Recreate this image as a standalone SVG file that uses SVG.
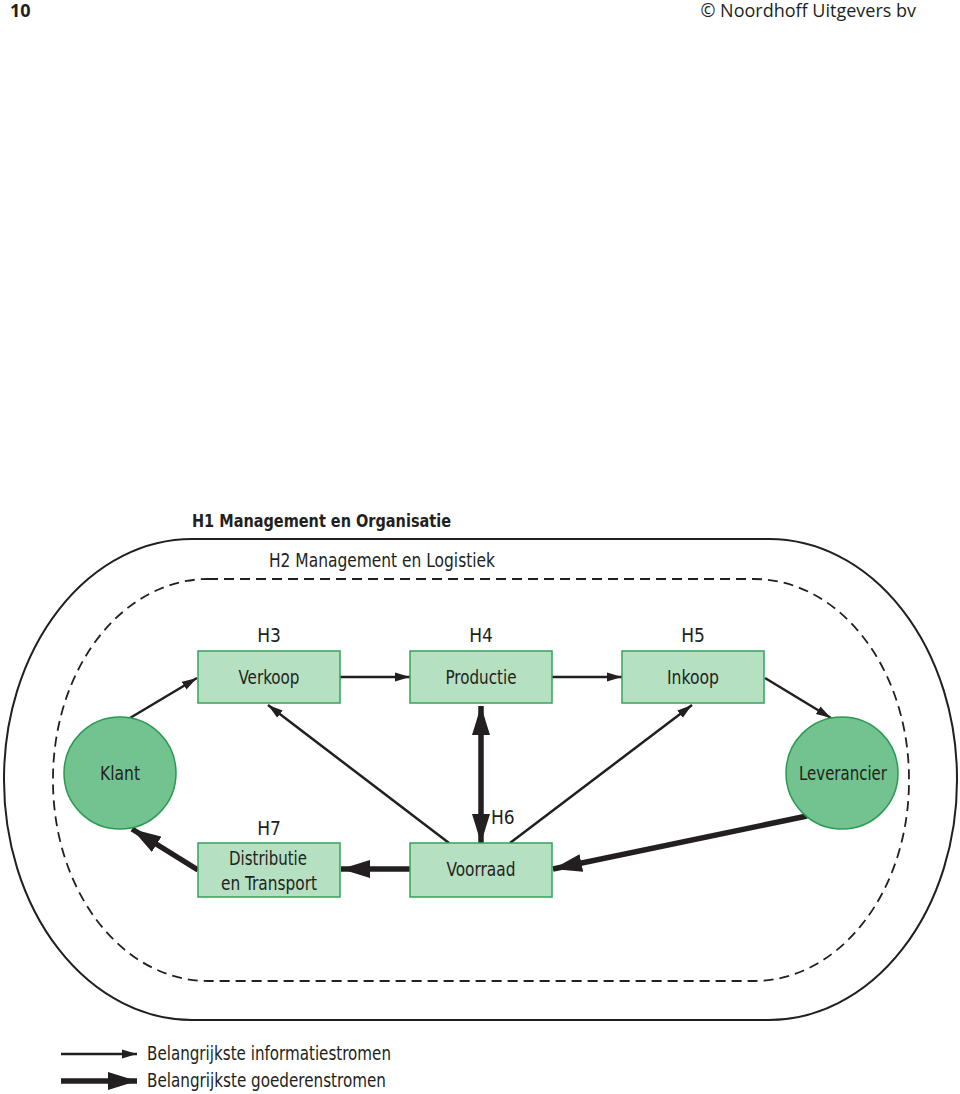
<svg xmlns="http://www.w3.org/2000/svg" width="960" height="1094" viewBox="0 0 960 1094">
<style>
text{font-family:"Liberation Sans Narrow","DejaVu Sans Condensed",sans-serif;fill:#231f20;font-size:19px}
.c{text-anchor:middle}
.box{fill:#b6e0c2;stroke:#35a25a;stroke-width:1.5}
.circ{fill:#72c38f;stroke:#2a9a52;stroke-width:1.5}
.thin{stroke:#231f20;stroke-width:2.5;fill:none;marker-end:url(#ha)}
.thick{stroke:#231f20;stroke-width:5.5;fill:none;marker-end:url(#hb)}
</style>
<defs>
<marker id="ha" markerUnits="userSpaceOnUse" markerWidth="16" markerHeight="10" refX="15" refY="5" orient="auto-start-reverse"><path d="M0,0.5 L15,5 L0,9.5 Z" fill="#231f20"/></marker>
<marker id="hb" markerUnits="userSpaceOnUse" markerWidth="30" markerHeight="18" refX="29" refY="9" orient="auto-start-reverse"><path d="M0,0 L29,9 L0,18 Z" fill="#231f20"/></marker>
</defs>
<text x="10" y="17" style="font-family:'Open Sans','Liberation Sans',sans-serif;font-weight:bold;font-size:18px">10</text>
<text x="916" y="17" style="font-family:'Open Sans','Liberation Sans',sans-serif;font-size:18px;text-anchor:end">© Noordhoff Uitgevers bv</text>
<g id="frame-h1">
<rect x="4" y="539" width="953" height="481" rx="188" ry="240" fill="none" stroke="#231f20" stroke-width="2"/>
<text x="192" y="527" style="font-weight:bold;font-size:18px" textLength="259" lengthAdjust="spacingAndGlyphs">H1 Management en Organisatie</text>
</g>
<g id="frame-h2">
<rect x="53" y="579" width="856" height="402" rx="155" ry="200" fill="none" stroke="#231f20" stroke-width="1.8" stroke-dasharray="10,6"/>
<text x="269" y="567" textLength="226" lengthAdjust="spacingAndGlyphs">H2 Management en Logistiek</text>
</g>
<g id="connectors">
<line class="thin" x1="130" y1="718" x2="197" y2="678"/>
<line class="thin" x1="340" y1="677" x2="410" y2="677"/>
<line class="thin" x1="552" y1="677" x2="622" y2="677"/>
<line class="thin" x1="765" y1="678" x2="831" y2="718"/>
<line class="thin" x1="449" y1="843" x2="268" y2="705"/>
<line class="thin" x1="510" y1="843" x2="692" y2="705"/>
<line class="thick" x1="481" y1="706" x2="481" y2="843" style="marker-start:url(#hb)"/>
<line class="thick" x1="807" y1="816" x2="553" y2="869"/>
<line class="thick" x1="410" y1="869" x2="341" y2="869"/>
<line class="thick" x1="198" y1="870" x2="132" y2="829"/>
</g>
<g id="klant"><circle class="circ" cx="120" cy="773" r="56"/><text class="c" x="120" y="780" textLength="40" lengthAdjust="spacingAndGlyphs">Klant</text></g>
<g id="leverancier"><circle class="circ" cx="842" cy="773" r="56"/><text class="c" x="843" y="780" textLength="88" lengthAdjust="spacingAndGlyphs">Leverancier</text></g>
<g id="verkoop"><text class="c" x="269" y="642">H3</text><rect class="box" x="198" y="651" width="142" height="52"/><text class="c" x="269" y="684" textLength="61" lengthAdjust="spacingAndGlyphs">Verkoop</text></g>
<g id="productie"><text class="c" x="481" y="642">H4</text><rect class="box" x="410" y="651" width="142" height="52"/><text class="c" x="481" y="684" textLength="71" lengthAdjust="spacingAndGlyphs">Productie</text></g>
<g id="inkoop"><text class="c" x="693" y="642">H5</text><rect class="box" x="622" y="651" width="142" height="52"/><text class="c" x="693" y="684" textLength="52" lengthAdjust="spacingAndGlyphs">Inkoop</text></g>
<g id="distributie"><text class="c" x="269" y="835">H7</text><rect class="box" x="198" y="843" width="142" height="54"/><text class="c" x="268" y="865" textLength="78" lengthAdjust="spacingAndGlyphs">Distributie</text><text class="c" x="269" y="890" textLength="96" lengthAdjust="spacingAndGlyphs">en Transport</text></g>
<g id="voorraad"><text x="491" y="824">H6</text><rect class="box" x="410" y="843" width="142" height="54"/><text class="c" x="481" y="876" textLength="69" lengthAdjust="spacingAndGlyphs">Voorraad</text></g>
<g id="legend">
<line class="thin" x1="61" y1="1054" x2="137" y2="1054"/>
<line class="thick" x1="61" y1="1081" x2="137" y2="1081"/>
<text x="147" y="1060" textLength="244" lengthAdjust="spacingAndGlyphs">Belangrijkste informatiestromen</text>
<text x="147" y="1087" textLength="239" lengthAdjust="spacingAndGlyphs">Belangrijkste goederenstromen</text>
</g>
</svg>
